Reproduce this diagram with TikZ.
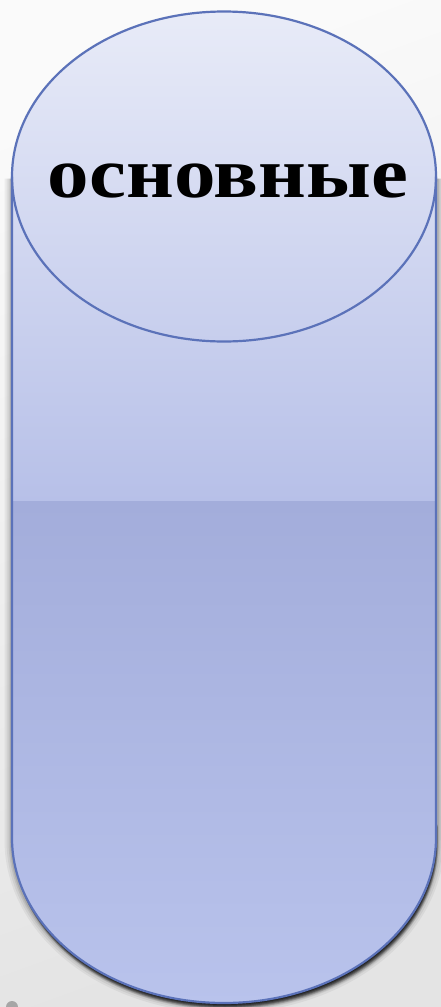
\documentclass[tikz,border=0pt]{standalone}
\usepackage{fontspec}
\setmainfont{Liberation Serif}
\usepackage{graphicx}
\definecolor{bgtop}{HTML}{FAFAFA}
\definecolor{bgbot}{HTML}{E4E4E4}
\definecolor{edge}{HTML}{5B72B9}
\definecolor{upA}{HTML}{E9ECF8}
\definecolor{upB}{HTML}{B7C0E8}
\definecolor{loA}{HTML}{A3ADDB}
\definecolor{loB}{HTML}{B9C3EC}
\tikzset{
  outline/.style={draw=edge, line width=2.2pt},
  label/.style={inner sep=0pt, anchor=base, text=black}
}
\begin{document}
\begin{tikzpicture}[x=1pt, y=-1pt]
\useasboundingbox (0,0) rectangle (441,1007);
% background
\shade[top color=bgtop, bottom color=bgbot, shading angle=20] (0,0) rectangle (441,1007);
\fill[gray!70] (12,1007) circle (6);
% shadow: soft glow
\foreach \w/\o in {16/0.05,12/0.06,8/0.08,5/0.1}{
  \draw[black, opacity=\o, line width=\w pt, shift={(0.5,2)}]
    (12,176.5) -- (12,838) arc[start angle=180, end angle=0, x radius=212, y radius=165]
    -- (436,176.5);
}
% shadow: dark bottom
\foreach \d/\o in {1/0.4,2/0.35,3/0.3,4/0.25,5/0.18,6/0.12,7/0.08}{
  \fill[black, opacity=\o, shift={(0.3*\d,\d)}]
    (12,820) -- (12,838) arc[start angle=180, end angle=0, x radius=212, y radius=165] -- (436,820) -- cycle;
}
% body
\begin{scope}
  \clip (12,176.5) -- (12,838) arc[start angle=180, end angle=0, x radius=212, y radius=165]
    -- (436,176.5) arc[start angle=0, end angle=-180, x radius=212, y radius=165] -- cycle;
  \shade[top color=upA, bottom color=upB] (0,0) rectangle (441,501);
  \shade[top color=loA, bottom color=loB] (0,501) rectangle (441,1007);
\end{scope}
\draw[outline] (12,176.5) -- (12,838) arc[start angle=180, end angle=0, x radius=212, y radius=165]
    -- (436,176.5);
\draw[outline] (224,176.5) ellipse [x radius=212, y radius=165];
\node[label] (t) at (228,197) {\scalebox{1}[0.86]{\resizebox{360pt}{!}{\bfseries основные}}};
\end{tikzpicture}
\end{document}
